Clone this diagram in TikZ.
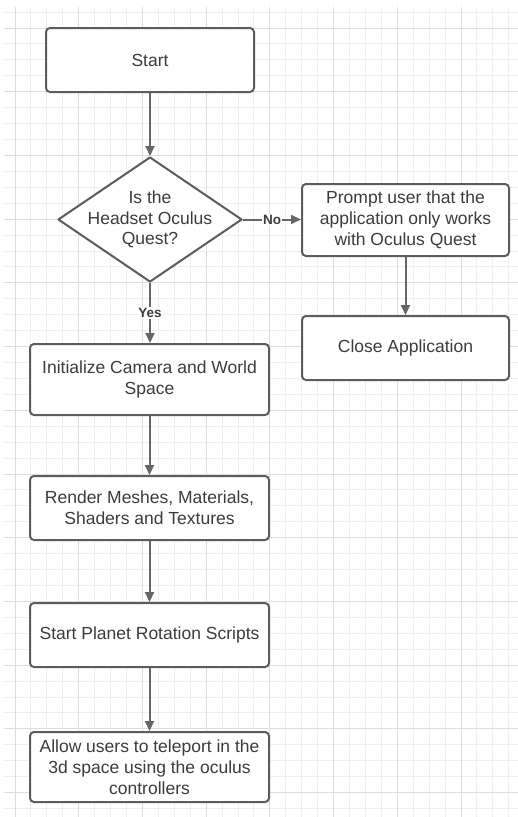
\documentclass[tikz,border=0pt]{standalone}
\usepackage{fontspec}
\setmainfont{Liberation Sans}
\usetikzlibrary{arrows.meta,shapes.geometric}
\definecolor{gridminor}{HTML}{EFEFEF}
\definecolor{gridmajor}{HTML}{DDDDDD}
\definecolor{boxc}{HTML}{5C5C5C}
\definecolor{arrc}{HTML}{666666}
\definecolor{txt}{HTML}{3C3C3C}
\tikzset{
  minorline/.style={draw=gridminor, line width=1pt},
  majorline/.style={draw=gridmajor, line width=1pt},
  box/.style={draw=boxc, line width=2pt, rounded corners=4pt, fill=white,
    align=center, text=txt, inner sep=0pt,
    font=\fontsize{17.5}{20.8}\selectfont},
  dia/.style={diamond, draw=boxc, line width=2pt, line join=round, fill=white,
    inner sep=0pt, minimum width=184pt, minimum height=125pt},
  txtnode/.style={align=center, text=txt, inner sep=0pt,
    font=\fontsize{17.5}{20.8}\selectfont},
  arr/.style={draw=arrc, line width=2pt, -{Triangle[length=10pt,width=9pt]}},
  lbl/.style={fill=white, inner sep=1pt, text=txt,
    font=\bfseries\fontsize{13.5}{16}\selectfont}
}
\begin{document}
\begin{tikzpicture}[x=1pt,y=-1pt]
\useasboundingbox (0,0) rectangle (518,817);
\fill[white] (0,0) rectangle (518,817);
\begin{scope}
  \clip (4,7) rectangle (518,817);
  \foreach \k in {0,...,31} \draw[minorline] ({15+15.93*\k},7) -- ({15+15.93*\k},817);
  \foreach \k in {0,...,50} \draw[minorline] (4,{12.07+15.93*\k}) -- (518,{12.07+15.93*\k});
  \foreach \k in {0,...,7} \draw[majorline] ({15+63.72*\k},7) -- ({15+63.72*\k},817);
  \foreach \k in {0,...,12} \draw[majorline] (4,{28+63.72*\k}) -- (518,{28+63.72*\k});
\end{scope}

\node[box, minimum width=208pt, minimum height=64pt] (start) at (150,60) {Start};
\node[dia] (q) at (150,219.5) {};
\node[txtnode] (qt) at (q.center) {Is the\\Headset Oculus\\Quest?};
\node[box, minimum width=207pt, minimum height=72pt] (prompt) at (405.5,220)
  {Prompt user that the\\application only works\\with Oculus Quest};
\node[box, minimum width=207pt, minimum height=64pt] (close) at (405.5,348)
  {Close Application};
\node[box, minimum width=239pt, minimum height=71pt] (init) at (149.5,379.5)
  {Initialize Camera and World\\Space};
\node[box, minimum width=239pt, minimum height=64pt] (render) at (149.5,508)
  {Render Meshes, Materials,\\Shaders and Textures};
\node[box, minimum width=239pt, minimum height=64pt] (planet) at (149.5,635)
  {Start Planet Rotation Scripts};
\node[box, minimum width=239pt, minimum height=70pt] (allow) at (149.5,767)
  {Allow users to teleport in the\\3d space using the oculus\\controllers};

\draw[arr] (start.south) -- (q.north);
\draw[arr] (q.south) -- node[lbl] {Yes} (q.south |- init.north);
\draw[arr] (q.east) -- node[lbl] {No} (q.east -| prompt.west);
\draw[arr] (prompt.south) -- (close.north);
\draw[arr] (init.south) -- (render.north);
\draw[arr] (render.south) -- (planet.north);
\draw[arr] (planet.south) -- (allow.north);
\end{tikzpicture}
\end{document}
